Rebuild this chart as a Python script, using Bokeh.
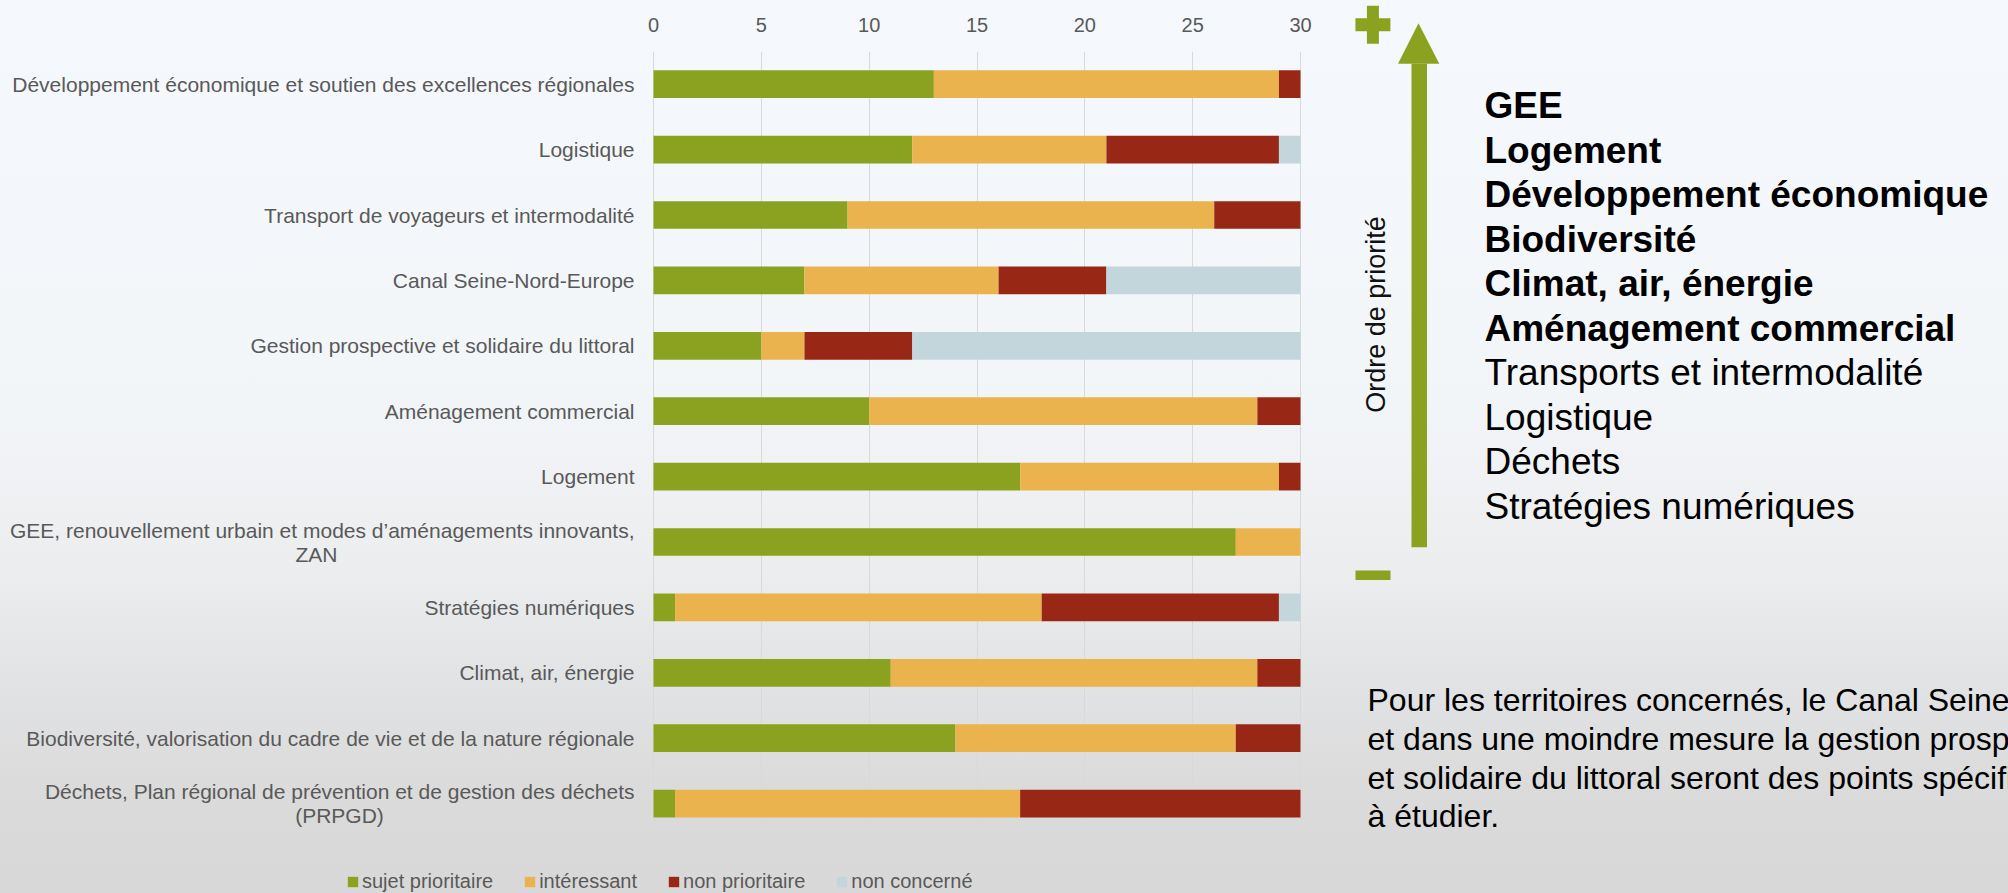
import math
from bokeh.plotting import figure
from bokeh.models import Range1d, FixedTicker, Legend, LegendItem, ColumnDataSource
from bokeh.embed import file_html
from bokeh.resources import INLINE
from bokeh.core.properties import value

# ---------------- data ----------------
categories = [
    "Développement économique et soutien des excellences régionales",
    "Logistique",
    "Transport de voyageurs et intermodalité",
    "Canal Seine-Nord-Europe",
    "Gestion prospective et solidaire du littoral",
    "Aménagement commercial",
    "Logement",
    "GEE, renouvellement urbain et modes d’aménagements innovants,\nZAN",
    "Stratégies numériques",
    "Climat, air, énergie",
    "Biodiversité, valorisation du cadre de vie et de la nature régionale",
    "Déchets, Plan régional de prévention et de gestion des déchets\n(PRPGD)",
]
sujet_prioritaire = [13, 12, 9, 7, 5, 10, 17, 27, 1, 11, 14, 1]
interessant = [16, 9, 17, 9, 2, 18, 12, 3, 17, 17, 13, 16]
non_prioritaire = [1, 8, 4, 5, 5, 2, 1, 0, 11, 2, 3, 13]
non_concerne = [0, 1, 0, 9, 18, 0, 0, 0, 1, 0, 0, 0]
series_names = ["sujet prioritaire", "intéressant", "non prioritaire", "non concerné"]
x_ticks = [0, 5, 10, 15, 20, 25, 30]

priority_title = "Ordre de priorité"
priority_list = ["GEE", "Logement", "Développement économique", "Biodiversité",
                 "Climat, air, énergie", "Aménagement commercial",
                 "Transports et intermodalité", "Logistique", "Déchets",
                 "Stratégies numériques"]
priority_bold = [True, True, True, True, True, True, False, False, False, False]
note_lines = ["Pour les territoires concernés, le Canal Seine-Nord-Europe",
              "et dans une moindre mesure la gestion prospective",
              "et solidaire du littoral seront des points spécifiques",
              "à étudier."]

# ---------------- styles / layout ----------------
COLORS = ["#8BA221", "#EAB34D", "#982815", "#C3D6DC"]
GREEN = "#8BA221"
GRAY_TXT = "#595959"
FONT = value("Liberation Sans")
FIG_H = 893
LEFT_W = 1340
RIGHT_W = 668
X0_PX, X30_PX = 653, 1300      # pixel positions of 0 and 30 inside left figure
FRAME_TOP = 51
BAND = 65.4
BAR_H = 0.424
SECOND_LINE_CENTER = {7: -337, 11: -314}

ppu = (X30_PX - X0_PX) / 30.0
x_start = -X0_PX / ppu
x_end = 30 + (LEFT_W - X30_PX) / ppu
y_top = -0.5
y_bottom = -0.5 + (FIG_H - FRAME_TOP) / BAND

# ---------------- left: stacked bar chart ----------------
p = figure(width=LEFT_W, height=FIG_H,
           x_range=Range1d(x_start, x_end), y_range=Range1d(y_bottom, y_top),
           x_axis_location="above", y_axis_location=None,
           toolbar_location=None, output_backend="svg",
           min_border_left=0, min_border_right=0,
           min_border_top=FRAME_TOP, min_border_bottom=0)
p.title = None
p.background_fill_color = None
p.border_fill_color = None
p.outline_line_color = None
p.styles = {"position": "absolute", "left": "0px", "top": "0px"}

ticker = FixedTicker(ticks=x_ticks)
p.xaxis.ticker = ticker
p.xgrid.ticker = ticker
p.xaxis.axis_line_color = None
p.xaxis.major_tick_line_color = None
p.xaxis.minor_tick_line_color = None
p.xaxis.major_label_text_font_size = "20px"
p.xaxis.major_label_text_color = GRAY_TXT
p.xaxis.major_label_text_font = "Liberation Sans"
p.xaxis.major_label_standoff = 14
p.xgrid.grid_line_color = "#D9D9D9"
p.ygrid.visible = False

keys = ["sp", "it", "np", "nc"]
src = ColumnDataSource(dict(y=list(range(len(categories))),
                            sp=sujet_prioritaire, it=interessant,
                            np=non_prioritaire, nc=non_concerne))
rs = p.hbar_stack(keys, y="y", height=BAR_H, color=COLORS, line_color=None, source=src)

# category labels
first_lines, yoffs = [], []
sec_txt, sec_y, sec_xoff = [], [], []
for i, c in enumerate(categories):
    parts = c.split("\n")
    first_lines.append(parts[0])
    if len(parts) > 1:
        yoffs.append(-12)
        sec_txt.append(parts[1])
        sec_y.append(i)
        sec_xoff.append(SECOND_LINE_CENTER.get(i, -330))
    else:
        yoffs.append(0)

lab_src = ColumnDataSource(dict(y=list(range(len(categories))), t=first_lines, yo=yoffs))
p.text(x=0, y="y", text="t", y_offset="yo", x_offset=-19, source=lab_src,
       text_align="right", text_baseline="middle", text_font=FONT,
       text_font_size="21px", text_color=GRAY_TXT)
sec_src = ColumnDataSource(dict(y=sec_y, t=sec_txt, xo=sec_xoff))
p.text(x=0, y="y", text="t", y_offset=12, x_offset="xo", source=sec_src,
       text_align="center", text_baseline="middle", text_font=FONT,
       text_font_size="21px", text_color=GRAY_TXT)

legend = Legend(items=[LegendItem(label=n, renderers=[r]) for n, r in zip(series_names, rs)],
                orientation="horizontal", location=(346, 0), padding=0, margin=0,
                spacing=30, label_standoff=3, glyph_width=13, glyph_height=13,
                label_text_font_size="20px", label_text_color=GRAY_TXT,
                label_text_font="Liberation Sans", border_line_color=None,
                background_fill_alpha=0)
p.add_layout(legend)

# ---------------- right: priority annotation ----------------
q = figure(frame_width=RIGHT_W, frame_height=FIG_H,
           x_range=Range1d(0, RIGHT_W), y_range=Range1d(FIG_H, 0),
           toolbar_location=None, output_backend="svg",
           min_border_left=0, min_border_right=0, min_border_top=0, min_border_bottom=0,
           x_axis_location=None, y_axis_location=None)
q.title = None
q.grid.visible = False
q.background_fill_color = None
q.border_fill_color = None
q.outline_line_color = None
q.styles = {"position": "absolute", "left": f"{LEFT_W}px", "top": "0px"}

# plus / minus signs
q.rect(x=[32.4, 32.4], y=[24.3, 24.3], width=[35, 12], height=[13, 38],
       fill_color=GREEN, line_color=None)
q.rect(x=[32.5], y=[574.7], width=[35], height=[9.5], fill_color=GREEN, line_color=None)
# arrow
q.rect(x=[78.75], y=[(63.3 + 546.7) / 2], width=[15.5], height=[546.7 - 63.3],
       fill_color=GREEN, line_color=None)
q.patch(x=[57.5, 98.8, 78.0], y=[63.3, 63.3, 22.7], fill_color=GREEN, line_color=None)

q.text(x=[35], y=[314], text=[priority_title], angle=math.pi / 2,
       text_align="center", text_baseline="middle", text_font=FONT,
       text_font_size="27px", text_color="#111111")

lst = ColumnDataSource(dict(y=[105 + 44.5 * i for i in range(len(priority_list))],
                            t=priority_list,
                            st=["bold" if b else "normal" for b in priority_bold]))
q.text(x=144, y="y", text="t", source=lst, text_font_style="st",
       text_align="left", text_baseline="alphabetic", text_font=FONT,
       text_font_size="37px", text_color="#000000")

note = ColumnDataSource(dict(y=[699.5 + 38.8 * i for i in range(len(note_lines))], t=note_lines))
q.text(x=27, y="y", text="t", source=note, text_align="left", text_baseline="alphabetic",
       text_font=FONT, text_font_size="32px", text_color="#000000")

html = file_html([p, q], INLINE, title="Ordre de priorité")
css = ("<style>html{min-height:100%;background:linear-gradient(to bottom,"
       "#F5F8FC 0%,#F3F6F9 42%,#ECEDEF 64%,#E2E3E5 76%,#DBDBDB 88%,#D8D8D8 100%) no-repeat;}"
       "body{background:transparent;overflow:hidden;}</style></head>")
html = html.replace("</head>", css, 1)
open("out.html", "w").write(html)
